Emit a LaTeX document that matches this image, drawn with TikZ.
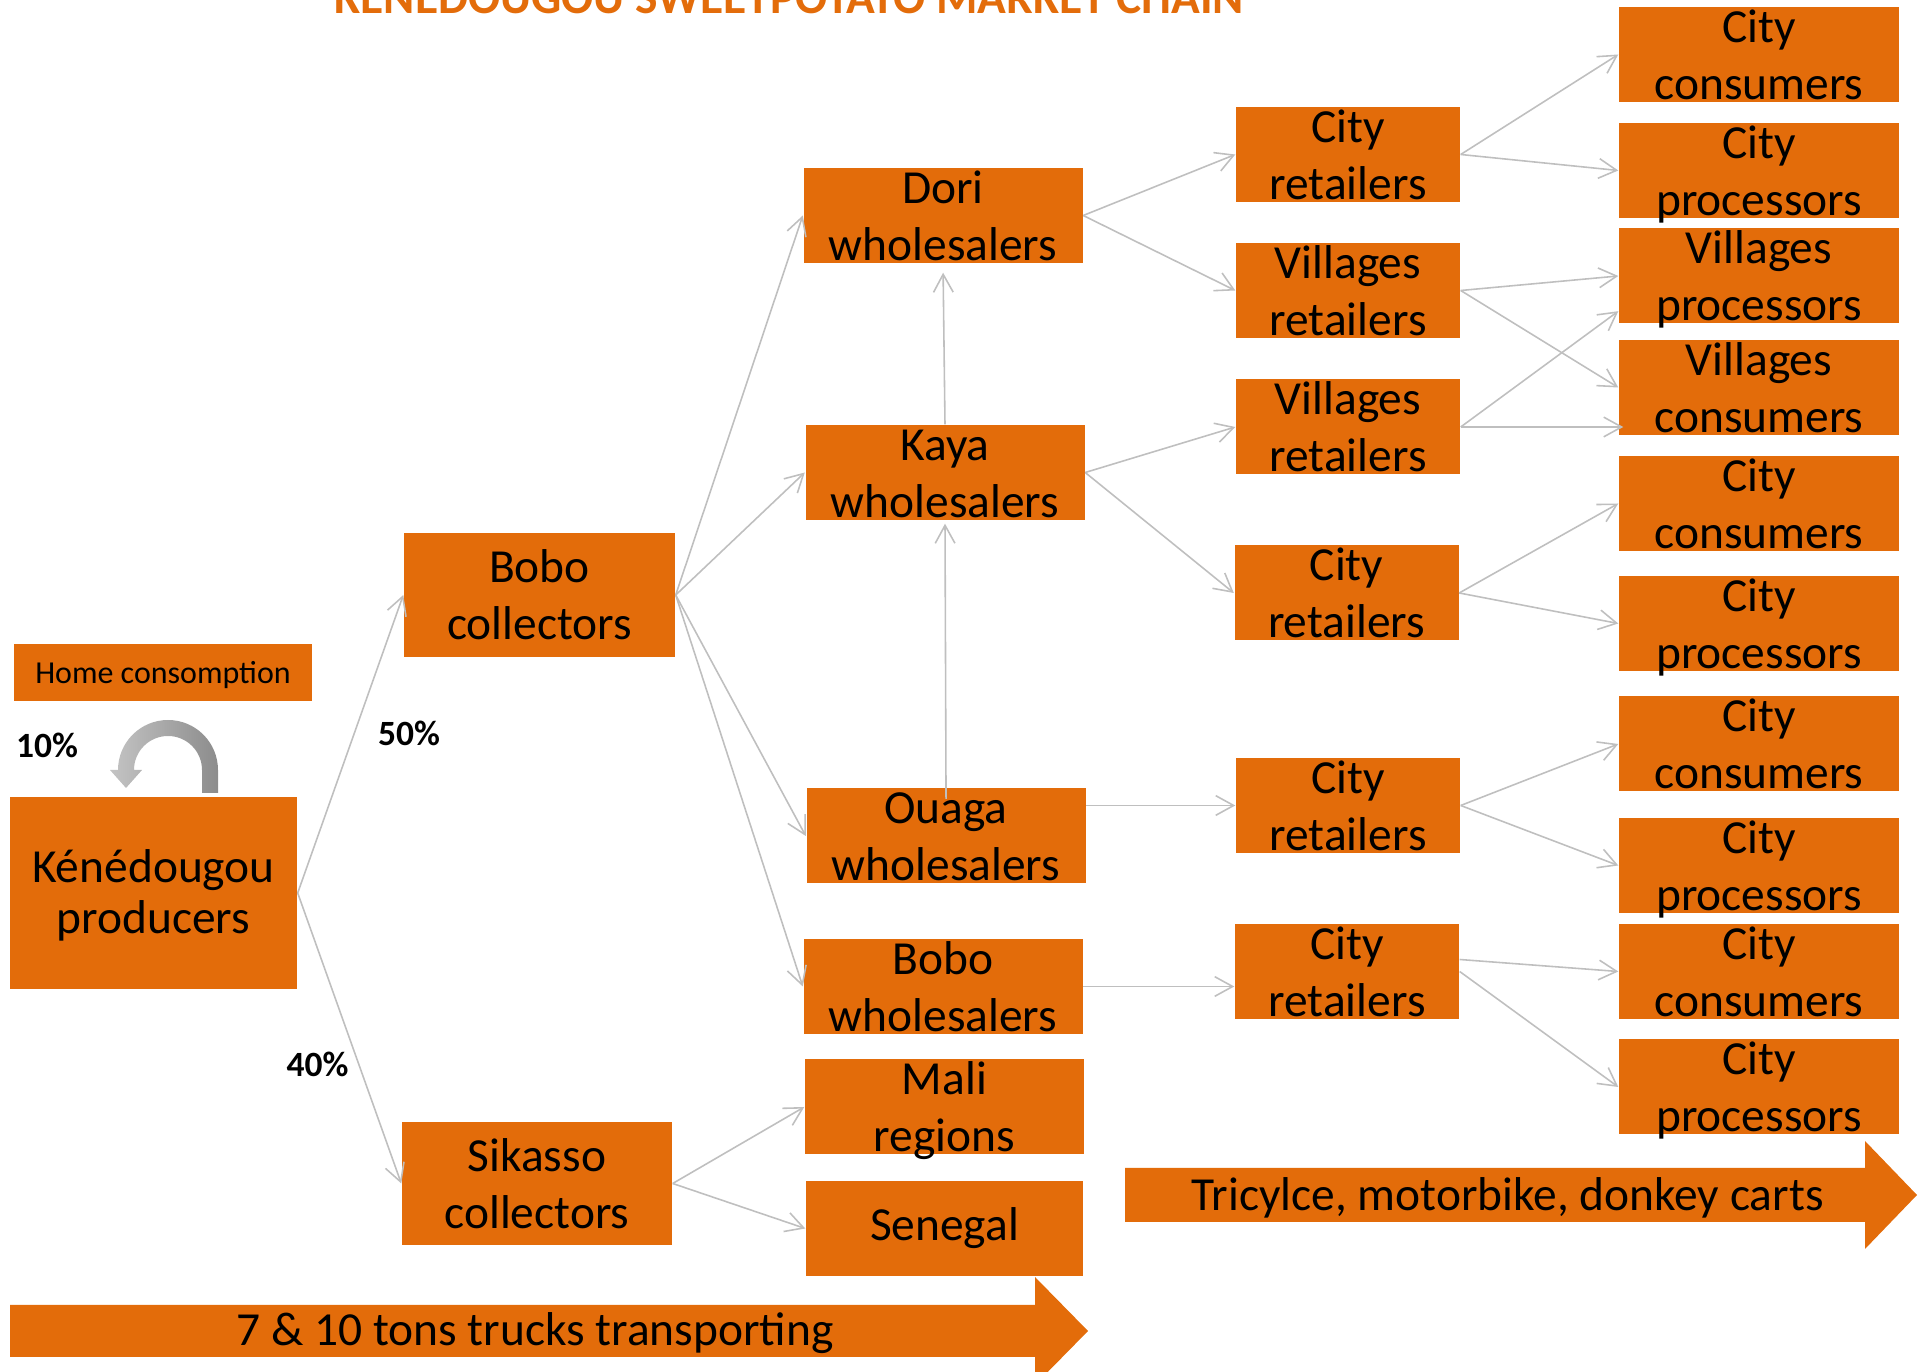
\documentclass[tikz,border=0pt]{standalone}
\usepackage{fontspec}
\setmainfont{Carlito}
\usetikzlibrary{arrows.meta,calc}

\definecolor{chainorange}{HTML}{E36C0A}
\definecolor{flowgray}{HTML}{BFBFBF}
\definecolor{loopleft}{HTML}{C4C4C4}
\definecolor{loopright}{HTML}{8C8C8C}

\begin{document}
\begin{tikzpicture}[
	box/.style={fill=chainorange, inner sep=0pt, align=center, minimum height=0.95cm,
		text height=0.92cm, text depth=0.02cm, font=\fontsize{13.5}{16.3}\selectfont},
	onebox/.style={box, text height=0.36cm, text depth=0.12cm},
	flow/.style={draw=flowgray, line width=0.45pt, -{Straight Barb[length=5.1pt,width=5.6pt]}},
	pct/.style={font=\fontsize{10.1}{12}\selectfont\bfseries, anchor=base},
	band/.style={font=\fontsize{13.5}{16}\selectfont, anchor=base}
]
	\useasboundingbox (0,0) rectangle (19.27,-13.72);
	% title
	\node[font=\fontsize{13.5}{16}\selectfont\bfseries, text=chainorange, anchor=base] (title) at (7.895,-0.14) {KENEDOUGOU SWEETPOTATO MARKET CHAIN};
	% transport bands
	\fill[chainorange] (0.10,-13.05) -- (10.35,-13.05) -- (10.35,-12.77) -- (10.88,-13.31) -- (10.35,-13.85) -- (10.35,-13.57) -- (0.10,-13.57) -- cycle;
	\node[band] (trucks) at (5.35,-13.46) {7 \& 10 tons trucks transporting};
	\fill[chainorange] (11.25,-11.68) -- (18.65,-11.68) -- (18.65,-11.41) -- (19.17,-11.95) -- (18.65,-12.49) -- (18.65,-12.22) -- (11.25,-12.22) -- cycle;
	\node[band] (carts) at (15.075,-12.11) {Tricylce, motorbike, donkey carts};
	% producers and collectors
	\node[onebox, minimum width=2.98cm, minimum height=0.57cm, text height=0.30cm, text depth=0.07cm, font=\fontsize{9.1}{11}\selectfont] (home) at (1.63,-6.725) {Home consomption};
	\node[box, minimum width=2.87cm, minimum height=1.92cm, text height=0.84cm, font=\fontsize{13.5}{14.6}\selectfont] (prod) at (1.535,-8.93) {Kénédougou\\producers};
	\node[box, minimum width=2.71cm, minimum height=1.24cm] (bcol) at (5.395,-5.95) {Bobo\\collectors};
	\node[box, minimum width=2.70cm, minimum height=1.23cm] (scol) at (5.37,-11.835) {Sikasso\\collectors};
	% wholesalers
	\foreach \nm/\la/\lb/\x/\y in {dori/Dori/wholesalers/9.43/2.155, kaya/Kaya/wholesalers/9.45/4.725,
		ouaga/Ouaga/wholesalers/9.46/8.36, bobow/Bobo/wholesalers/9.43/9.865, mali/Mali/regions/9.445/11.07} {
		\node[box, minimum width=2.79cm] (\nm) at (\x,-\y) {\la\\\lb};
	}
	\node[onebox, minimum width=2.77cm] (seneg) at (9.445,-12.285) {Senegal};
	% retailers
	\foreach \nm/\la/\x/\y in {cr1/City/13.48/1.545, vr1/Villages/13.48/2.905, vr2/Villages/13.48/4.27,
		cr2/City/13.465/5.93, cr3/City/13.48/8.055, cr4/City/13.47/9.715} {
		\node[box, minimum width=2.24cm] (\nm) at (\x,-\y) {\la\\retailers};
	}
	% consumers and processors
	\foreach \nm/\la/\lb/\y in {cc1/City/consumers/0.545, cp1/City/processors/1.705, vp/Villages/processors/2.76,
		vc/Villages/consumers/3.875, cc2/City/consumers/5.035, cp2/City/processors/6.235,
		cc3/City/consumers/7.44, cp3/City/processors/8.655, cc4/City/consumers/9.715, cp4/City/processors/10.87} {
		\node[box, minimum width=2.80cm] (\nm) at (17.59,-\y) {\la\\\lb};
	}
	% shares
	\node[pct] (p10) at (0.47,-7.58) {10\%};
	\node[pct] (p50) at (4.09,-7.46) {50\%};
	\node[pct] (p40) at (3.175,-10.77) {40\%};
	% home consumption loop
	\shade[left color=loopleft, right color=loopright] (2.18,-7.93) -- (2.18,-7.70) arc[start angle=0, end angle=180, radius=0.50]
		-- (1.10,-7.70) -- (1.26,-7.88) -- (1.42,-7.70) -- (1.34,-7.70) arc[start angle=180, end angle=0, radius=0.34]
		-- (2.02,-7.93) -- cycle;
	% flows
	\foreach \s/\t in {prod/bcol, prod/scol, bcol/dori, bcol/kaya, bcol/ouaga, bcol/bobow, scol/mali, scol/seneg,
		dori/cr1, dori/vr1, kaya/vr2, kaya/cr2, cr1/cc1, cr1/cp1, vr1/vp, vr1/vc,
		cr2/cc2, cr2/cp2, cr3/cc3, cr3/cp3, cr4/cp4} {
		\draw[flow] (\s.east) -- (\t.west);
	}
	\draw[flow, shorten <=-0.11cm, shorten >=0.03cm] (ouaga.north) -- (kaya.south);
	\draw[flow, shorten >=0.09cm] (kaya.north) -- (dori.south);
	\draw[flow] (ouaga.east |- cr3.west) -- (cr3.west);
	\draw[flow] (bobow.east) -- (bobow.east -| cr4.west);
	\draw[flow] (vr2.east) -- ($(vp.south west)+(0,0.13)$);
	\draw[flow, shorten >=-0.05cm] (vr2.east) -- (vr2.east -| vc.west);
	\draw[flow] ($(cr4.east)+(0,0.12)$) -- (cc4.west);
\end{tikzpicture}
\end{document}
